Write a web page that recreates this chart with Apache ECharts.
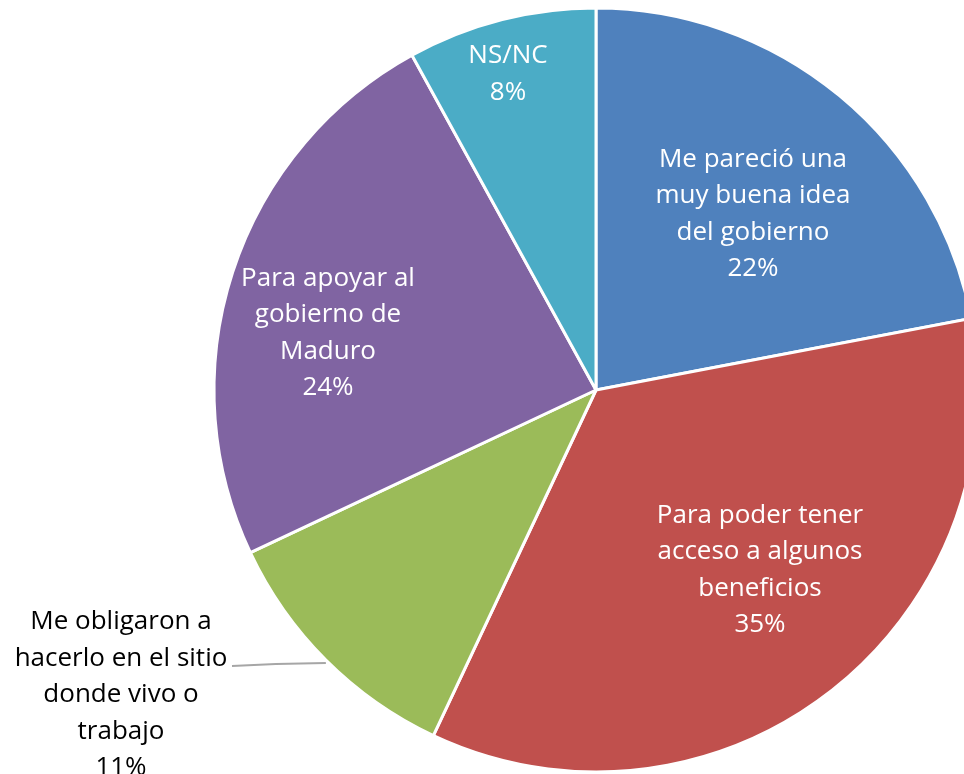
<!DOCTYPE html>
<html><head><meta charset="utf-8">
<script src="https://cdn.jsdelivr.net/npm/echarts@6/dist/echarts.min.js"></script>
<style>html,body{margin:0;padding:0;background:#fff}#c{width:964px;height:774px}</style>
</head><body><div id="c"></div>
<script>
const categories = [
  "Me pareció una\nmuy buena idea\ndel gobierno",
  "Para poder tener\nacceso a algunos\nbeneficios",
  "Me obligaron a\nhacerlo en el sitio\ndonde vivo o\ntrabajo",
  "Para apoyar al\ngobierno de\nMaduro",
  "NS/NC"
];
const values = [22, 35, 11, 24, 8];
const colors = ["#4F81BD", "#C0504D", "#9BBB59", "#8064A2", "#4BACC6"];
const labelColors = ["#ffffff", "#ffffff", "#000000", "#ffffff", "#ffffff"];
// label centre positions (layout, px)
const labelPos = [[753, 214], [760, 570], [121, 695], [328, 333], [508, 74]];

const chart = echarts.init(document.getElementById('c'));
chart.setOption({
  animation: false,
  series: [{
    type: 'pie',
    center: [596, 390],
    radius: 382,
    startAngle: 90,
    clockwise: true,
    avoidLabelOverlap: false,
    itemStyle: { borderColor: '#ffffff', borderWidth: 3 },
    label: {
      show: true,
      position: 'inside',
      fontFamily: 'Open Sans',
      fontSize: 26,
      lineHeight: 36.5,
      align: 'center',
      verticalAlign: 'middle',
      formatter: p => p.name + '\n' + p.value + '%'
    },
    labelLine: { show: false },
    labelLayout: function (params) {
      const pos = labelPos[params.dataIndex];
      const out = { x: pos[0], y: pos[1], align: 'center', verticalAlign: 'middle' };
      if (params.labelLinePoints) {
        const p0 = params.labelLinePoints[0];
        out.labelLinePoints = [[p0[0], p0[1] + 3], [p0[0] - 50, p0[1] + 4], [232, p0[1] + 6]];
      }
      return out;
    },
    data: categories.map((c, i) => ({
      name: c,
      value: values[i],
      itemStyle: { color: colors[i] },
      label: i === 2
        ? { position: 'outside', color: labelColors[i], align: 'center' }
        : { color: labelColors[i] },
      labelLine: i === 2
        ? { show: true, length: 0, length2: 90, lineStyle: { color: '#A6A6A6', width: 2 } }
        : { show: false }
    }))
  }]
});
</script>
</body></html>
